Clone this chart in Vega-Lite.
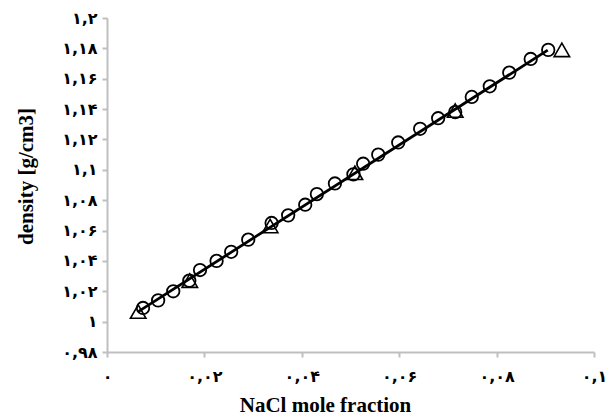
{
  "$schema": "https://vega.github.io/schema/vega-lite/v6.json",
  "width": 487,
  "height": 334,
  "autosize": {"type": "none"},
  "padding": {"left": 107, "top": 18, "right": 22, "bottom": 67},
  "background": "white",
  "config": {
    "view": {"stroke": null},
    "axis": {
      "grid": false,
      "domainColor": "#bfbfbf",
      "domainWidth": 2,
      "tickColor": "#bfbfbf",
      "tickWidth": 2,
      "tickSize": 5,
      "labelFont": "DejaVu Sans",
      "labelFontWeight": "bold",
      "labelFontSize": 16,
      "labelColor": "black",
      "labelOverlap": false,
      "labelFlush": false,
      "titleFont": "Liberation Serif",
      "titleFontWeight": "bold",
      "titleFontSize": 21,
      "titleColor": "black"
    }
  },
  "datasets": {
    "circles": [
      {"x": 0.0074, "y": 1.009},
      {"x": 0.0105, "y": 1.014},
      {"x": 0.0136, "y": 1.020},
      {"x": 0.0169, "y": 1.027},
      {"x": 0.0191, "y": 1.034},
      {"x": 0.0225, "y": 1.040},
      {"x": 0.0255, "y": 1.046},
      {"x": 0.0290, "y": 1.054},
      {"x": 0.0338, "y": 1.065},
      {"x": 0.0372, "y": 1.070},
      {"x": 0.0407, "y": 1.077},
      {"x": 0.0431, "y": 1.084},
      {"x": 0.0468, "y": 1.091},
      {"x": 0.0506, "y": 1.097},
      {"x": 0.0526, "y": 1.104},
      {"x": 0.0557, "y": 1.110},
      {"x": 0.0598, "y": 1.118},
      {"x": 0.0643, "y": 1.127},
      {"x": 0.0680, "y": 1.134},
      {"x": 0.0715, "y": 1.138},
      {"x": 0.0749, "y": 1.148},
      {"x": 0.0786, "y": 1.155},
      {"x": 0.0826, "y": 1.164},
      {"x": 0.0870, "y": 1.173},
      {"x": 0.0906, "y": 1.179}
    ],
    "triangles": [
      {"x": 0.0064, "y": 1.0066},
      {"x": 0.0170, "y": 1.027},
      {"x": 0.0335, "y": 1.063},
      {"x": 0.0509, "y": 1.098},
      {"x": 0.0715, "y": 1.139},
      {"x": 0.0934, "y": 1.179}
    ],
    "fit": [
      {"x": 0.0065, "y": 1.0068},
      {"x": 0.0905, "y": 1.1788}
    ]
  },
  "layer": [
    {
      "data": {"name": "fit"},
      "mark": {"type": "line", "color": "black", "strokeWidth": 2.8},
      "encoding": {
        "x": {
          "field": "x", "type": "quantitative",
          "scale": {"domain": [0, 0.1], "nice": false},
          "axis": {
            "values": [0, 0.02, 0.04, 0.06, 0.08, 0.1],
            "tickCount": 6,
            "labelOverlap": false,
            "labelFlush": false,
            "labelPadding": 11,
            "labelExpr": "replace(replace(replace(replace(replace(replace(replace(replace(replace(replace(replace(''+datum.value,'.',','),regexp('0','g'),'۰'),regexp('1','g'),'۱'),regexp('2','g'),'۲'),regexp('3','g'),'۳'),regexp('4','g'),'۴'),regexp('5','g'),'۵'),regexp('6','g'),'۶'),regexp('7','g'),'۷'),regexp('8','g'),'۸'),regexp('9','g'),'۹')",
            "title": "NaCl mole fraction",
            "titleX": 218,
            "titleY": 53,
            "titleBaseline": "middle",
            "titleAnchor": "middle",
            "titleAlign": "center"
          }
        },
        "y": {
          "field": "y", "type": "quantitative",
          "scale": {"domain": [0.98, 1.2], "nice": false, "zero": false},
          "axis": {
            "values": [0.98, 1, 1.02, 1.04, 1.06, 1.08, 1.1, 1.12, 1.14, 1.16, 1.18, 1.2],
            "tickCount": 12,
            "labelOverlap": false,
            "labelFlush": false,
            "labelBound": false,
            "labelPadding": 5,
            "labelExpr": "replace(replace(replace(replace(replace(replace(replace(replace(replace(replace(replace(''+datum.value,'.',','),regexp('0','g'),'۰'),regexp('1','g'),'۱'),regexp('2','g'),'۲'),regexp('3','g'),'۳'),regexp('4','g'),'۴'),regexp('5','g'),'۵'),regexp('6','g'),'۶'),regexp('7','g'),'۷'),regexp('8','g'),'۸'),regexp('9','g'),'۹')",
            "title": "density [g/cm3]",
            "titleX": -81,
            "titleY": 158,
            "titleBaseline": "middle",
            "titleAlign": "center",
            "titleAngle": -90
          }
        }
      }
    },
    {
      "data": {"name": "circles"},
      "mark": {"type": "point", "shape": "circle", "filled": false, "color": "black", "strokeWidth": 1.8, "size": 155, "opacity": 1},
      "encoding": {
        "x": {"field": "x", "type": "quantitative"},
        "y": {"field": "y", "type": "quantitative"}
      }
    },
    {
      "data": {"name": "triangles"},
      "mark": {"type": "point", "shape": "triangle-up", "filled": false, "color": "black", "strokeWidth": 1.6, "size": 240, "opacity": 1},
      "encoding": {
        "x": {"field": "x", "type": "quantitative"},
        "y": {"field": "y", "type": "quantitative"}
      }
    },
    {
      "mark": {"type": "rule", "color": "black", "strokeWidth": 2},
      "encoding": {"y": {"datum": 1.2}}
    },
    {
      "mark": {"type": "rule", "color": "black", "strokeWidth": 2},
      "encoding": {"x": {"datum": 0.1}}
    }
  ]
}
